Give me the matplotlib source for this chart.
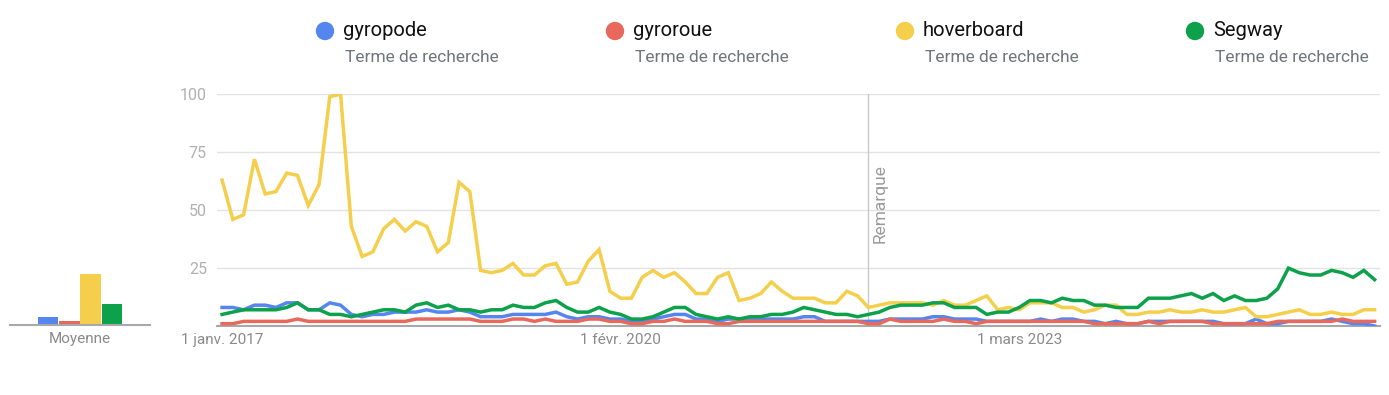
import matplotlib
matplotlib.use("Agg")
from matplotlib import pyplot as plt
from matplotlib.patches import Ellipse

plt.rcParams['font.family'] = ['Roboto', 'DejaVu Sans']

# monthly interest, Jan 2017 .. Dec 2025
gyropode = [8, 8, 7, 9, 9, 8, 10, 10, 7, 7, 10, 9, 5, 4, 5, 5, 6, 6, 6, 7,
            6, 6, 7, 6, 4, 4, 4, 5, 5, 5, 5, 6, 4, 3, 4, 4, 3, 3, 2, 2,
            3, 4, 5, 5, 3, 3, 2, 3, 3, 3, 3, 3, 3, 3, 4, 4, 2, 2, 2, 2,
            2, 2, 3, 3, 3, 3, 4, 4, 3, 3, 3, 2, 2, 2, 2, 2, 3, 2, 3, 3,
            2, 2, 1, 2, 1, 1, 2, 2, 2, 2, 2, 2, 2, 1, 1, 1, 3, 1, 1, 2,
            2, 2, 2, 3, 2, 1, 1, 0]
gyroroue = [1, 1, 2, 2, 2, 2, 2, 3, 2, 2, 2, 2, 2, 2, 2, 2, 2, 2, 3, 3,
            3, 3, 3, 3, 2, 2, 2, 3, 3, 2, 3, 2, 2, 2, 3, 3, 2, 2, 1, 1,
            2, 2, 3, 2, 2, 2, 1, 1, 2, 2, 2, 2, 2, 2, 2, 2, 2, 2, 2, 2,
            1, 1, 3, 2, 2, 2, 2, 3, 2, 2, 1, 2, 2, 2, 2, 2, 2, 2, 2, 2,
            2, 1, 1, 1, 1, 1, 2, 1, 2, 2, 2, 2, 1, 1, 1, 1, 1, 1, 2, 2,
            2, 2, 2, 2, 3, 2, 2, 2]
hoverboard = [63, 46, 48, 72, 57, 58, 66, 65, 52, 61, 99, 100, 43, 30, 32, 42, 46, 41, 45, 43,
              32, 36, 62, 58, 24, 23, 24, 27, 22, 22, 26, 27, 18, 19, 28, 33, 15, 12, 12, 21,
              24, 21, 23, 19, 14, 14, 21, 23, 11, 12, 14, 19, 15, 12, 12, 12, 10, 10, 15, 13,
              8, 9, 10, 10, 10, 10, 9, 11, 9, 9, 11, 13, 7, 8, 7, 10, 10, 10, 8, 8,
              6, 7, 9, 9, 5, 5, 6, 6, 7, 6, 6, 7, 6, 6, 7, 8, 4, 4, 5, 6,
              7, 5, 5, 6, 5, 5, 7, 7]
segway = [5, 6, 7, 7, 7, 7, 8, 10, 7, 7, 5, 5, 4, 5, 6, 7, 7, 6, 9, 10,
          8, 9, 7, 7, 6, 7, 7, 9, 8, 8, 10, 11, 8, 6, 6, 8, 6, 5, 3, 3,
          4, 6, 8, 8, 5, 4, 3, 4, 3, 4, 4, 5, 5, 6, 8, 7, 6, 5, 5, 4,
          5, 6, 8, 9, 9, 9, 10, 10, 8, 8, 8, 5, 6, 6, 8, 11, 11, 10, 12, 11,
          11, 9, 9, 8, 8, 8, 12, 12, 12, 13, 14, 12, 14, 11, 13, 11, 11, 12, 16, 25,
          23, 22, 22, 24, 23, 21, 24, 20]

names = ["gyropode", "gyroroue", "hoverboard", "Segway"]
colors = ["#5586f0", "#e8695c", "#f5cf4c", "#0ca14a"]
averages = [3.5, 1.8, 22, 9]
tick_pos = [0, 37, 74]
tick_labels = ["1 janv. 2017", "1 févr. 2020", "1 mars 2023"]
note_idx = 60

W, H = 1389, 395
fig = plt.figure(figsize=(W / 100, H / 100), dpi=100)

# main line chart
ax = fig.add_axes([216.7 / W, (H - 326) / H, (1380 - 216.7) / W, (326 - 94.3) / H])
months = list(range(len(hoverboard)))
for series, c in zip([gyropode, gyroroue, hoverboard, segway], colors):
    ax.plot(months, series, color=c, lw=2.5, solid_joinstyle='miter', zorder=3)
ax.set_xlim(-0.5, 107.5)
ax.set_ylim(0, 100)
ax.set_yticks([25, 50, 75, 100])
ax.yaxis.grid(True, color="#e3e3e3", lw=1)
ax.set_axisbelow(True)
for s in ["top", "right", "left"]:
    ax.spines[s].set_visible(False)
ax.spines["bottom"].set_color("#a8a8a8")
ax.spines["bottom"].set_linewidth(1.5)
ax.tick_params(axis='y', length=0, pad=7, labelcolor="#b0b0b0", labelsize=11.5)
ax.set_xticks(tick_pos)
ax.set_xticklabels(tick_labels)
ax.tick_params(axis='x', length=0, pad=5, labelcolor="#8a8a8a", labelsize=11)
ax.axvline(note_idx, color="#c8c8c8", lw=1, zorder=2)
ax.text(note_idx + 0.4, 53, "Remarque", rotation=90, ha="left", va="center",
        color="#9a9a9a", fontsize=12.5)

# average bars
axb = fig.add_axes([10 / W, (H - 325) / H, 140 / W, 230 / H])
axb.bar([0, 1, 2, 3], averages, width=0.96, color=colors)
axb.set_xlim(-1.8, 4.8)
axb.set_ylim(0, 100)
for s in ["top", "right", "left"]:
    axb.spines[s].set_visible(False)
axb.spines["bottom"].set_color("#a8a8a8")
axb.spines["bottom"].set_linewidth(1.5)
axb.set_yticks([])
axb.set_xticks([1.5])
axb.set_xticklabels(["Moyenne"])
axb.tick_params(axis='x', length=0, pad=5, labelcolor="#8a8a8a", labelsize=11)

# legend
legend_x = [325, 615, 905, 1195]
for x, n, c in zip(legend_x, names, colors):
    fig.patches.append(Ellipse((x / W, (H - 31) / H), 17 / W, 17 / H, color=c,
                               transform=fig.transFigure, figure=fig))
    fig.text((x + 18) / W, (H - 30) / H, n, ha="left", va="center",
             fontsize=14.5, color="#111111")
    fig.text((x + 20) / W, (H - 58) / H, "Terme de recherche", ha="left",
             va="center", fontsize=12.5, color="#70757a")

fig.savefig("out.png", dpi=100)
